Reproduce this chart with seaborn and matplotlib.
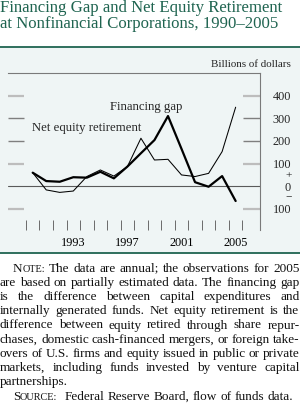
import numpy as np
import pandas as pd
import matplotlib
matplotlib.use("Agg")
import matplotlib.pyplot as plt
import seaborn as sns
from matplotlib import transforms
from matplotlib.patches import Rectangle
from matplotlib.lines import Line2D

# ---------------- data ----------------
years = list(range(1990, 2006))
financing_gap = [60, 23, 20, 40, 38, 64, 35, 87, 146, 204, 310, 165, 18, -2, 45, -65]
net_equity_retirement = [60, -16, -27, -21, 43, 72, 45, 87, 212, 116, 119, 50, 43, 57, 153, 349]
year_labels = [1993, 1997, 2001, 2005]
y_tick_values = [400, 300, 200, 100, -100]
y_tick_texts = ["400", "300", "200", "100", "100"]

title_lines = ["Financing Gap and Net Equity Retirement",
               "at Nonfinancial Corporations, 1990\u20132005"]
note_lines = [
    ["NOTE:", "The", "data", "are", "annual;", "the", "observations", "for", "2005"],
    "are based on partially estimated data. The financing gap".split(),
    "is the difference between capital expenditures and".split(),
    "internally generated funds. Net equity retirement is the".split(),
    "difference between equity retired through share repur-".split(),
    "chases, domestic cash-financed mergers, or foreign take-".split(),
    "overs of U.S. firms and equity issued in public or private".split(),
    "markets, including funds invested by venture capital".split(),
    ["partnerships."],
]
source_words = ["SOURCE:", "Federal", "Reserve", "Board,", "flow", "of", "funds", "data."]

# ---------------- style ----------------
sns.set_style("white")
SERIF = ["Liberation Serif", "DejaVu Serif"]
plt.rcParams["font.family"] = SERIF
GREEN = "#1f6450"
BG = "#eff5f5"

W, H = 300, 407
fig = plt.figure(figsize=(W / 100, H / 100), dpi=100)


def fx(px):
    return px / W


def fy(py):
    return 1 - py / H


# panel background and green rules
fig.patches.append(Rectangle((0, fy(252.5)), 1, fy(47) - fy(252.5),
                             transform=fig.transFigure, facecolor=BG,
                             edgecolor="none", zorder=-10))
fig.add_artist(Line2D([0, 1], [fy(47), fy(47)], color=GREEN, lw=1.3))
fig.add_artist(Line2D([0, 1], [fy(252.5), fy(252.5)], color=GREEN, lw=1.3))

# title
fig.text(fx(0), fy(12.5), title_lines[0], fontsize=12.1, color=GREEN, va="baseline", ha="left")
fig.text(fx(0), fy(28.5), title_lines[1], fontsize=12.1, color=GREEN, va="baseline", ha="left")

# axes
ax = fig.add_axes([fx(8), fy(230), fx(260) - fx(8), fy(73) - fy(230)])
ax.set_facecolor("none")

df = pd.DataFrame({"year": years, "gap": financing_gap, "ner": net_equity_retirement})
sns.lineplot(data=df, x="year", y="ner", ax=ax, color="black", linewidth=0.75)
sns.lineplot(data=df, x="year", y="gap", ax=ax, color="black", linewidth=1.6)

ax.set_xlim(1988.175, 2006.8)
ax.set_ylim(-193, 500)
ax.set_xlabel("")
ax.set_ylabel("")

for s in ["left", "bottom"]:
    ax.spines[s].set_visible(False)
for s in ["top", "right"]:
    ax.spines[s].set_visible(True)
    ax.spines[s].set_color("#7a7a7a")
    ax.spines[s].set_linewidth(0.8)

ax.set_xticks(year_labels)
ax.set_xticklabels([str(y) for y in year_labels], fontsize=8.8)
ax.set_xticks(np.arange(1989.5, 2006, 1.0), minor=True)
ax.tick_params(axis="x", which="major", length=0, pad=5.2, colors="black")
ax.tick_params(axis="x", which="minor", direction="in", length=7.2, width=0.7,
               color="#6a6a6a", bottom=True)
ax.set_yticks([])

# zero line
ax.axhline(0, color="#5a5a5a", lw=0.8, zorder=1)

# y tick marks (left and right)
ytr = ax.get_yaxis_transform()
for v in y_tick_values:
    c = "#7f7f7f" if v in (300, 200) else "#bdbdbd"
    lw = 1.0 if v in (300, 200) else 1.6
    ax.plot([0, 16 / 252], [v, v], transform=ytr, color=c, lw=lw, solid_capstyle="butt")
    ax.plot([235.3 / 252, 1], [v, v], transform=ytr, color=c, lw=lw, solid_capstyle="butt")

# right labels
btr = transforms.blended_transform_factory(fig.transFigure, ax.transData)
for v, t in zip(y_tick_values, y_tick_texts):
    fig.text(fx(291), v, t, transform=btr, ha="right", va="center_baseline", fontsize=8.8)
fig.text(fx(291), 0, "0", transform=btr, ha="right", va="center_baseline", fontsize=8.8)
fig.text(fx(288.3), 53, "+", transform=btr, ha="center", va="center_baseline", fontsize=8.2)
fig.text(fx(288.3), -47, "\u2212", transform=btr, ha="center", va="center_baseline", fontsize=8.2)

fig.text(fx(291), fy(66.7), "Billions of dollars", ha="right", va="baseline", fontsize=7.9)

# line labels
ax.text(1995.71, 337, "Financing gap", fontsize=9.2, ha="left", va="baseline")
ax.text(1989.93, 244, "Net equity retirement", fontsize=9.2, ha="left", va="baseline")

# ---------------- note (justified) ----------------
FS = 9.5
SC = FS * 0.78
renderer = fig.canvas.get_renderer()


def segs_for(word):
    if word == "NOTE:":
        return [("N", FS), ("OTE:", SC)]
    if word == "SOURCE:":
        return [("S", FS), ("OURCE:", SC)]
    return [(word, FS)]


def seg_width(s, size):
    t = fig.text(0, 0, s, fontsize=size)
    w = t.get_window_extent(renderer).width
    t.remove()
    return w


def word_width(word):
    return sum(seg_width(s, z) for s, z in segs_for(word))


def draw_word(word, x, yb):
    for s, z in segs_for(word):
        fig.text(fx(x), fy(yb), s, fontsize=z, ha="left", va="baseline", color="#111111")
        x += seg_width(s, z)


space_w = seg_width("a b", FS) - seg_width("ab", FS)
base0 = 271.7
step = 14.2
for i, words in enumerate(note_lines):
    yb = base0 + i * step
    x0 = 12.7 if i == 0 else 0.0
    widths = [word_width(w) for w in words]
    if i < len(note_lines) - 1 and len(words) > 1:
        gap = (299.5 - x0 - sum(widths)) / (len(words) - 1)
    else:
        gap = space_w
    x = x0
    for w, ww in zip(words, widths):
        draw_word(w, x, yb)
        x += ww + gap

yb = base0 + len(note_lines) * step
x = 12.7
for j, w in enumerate(source_words):
    draw_word(w, x, yb)
    x += word_width(w) + (space_w * 2 if j == 0 else space_w)

fig.savefig("out.png", dpi=100)
